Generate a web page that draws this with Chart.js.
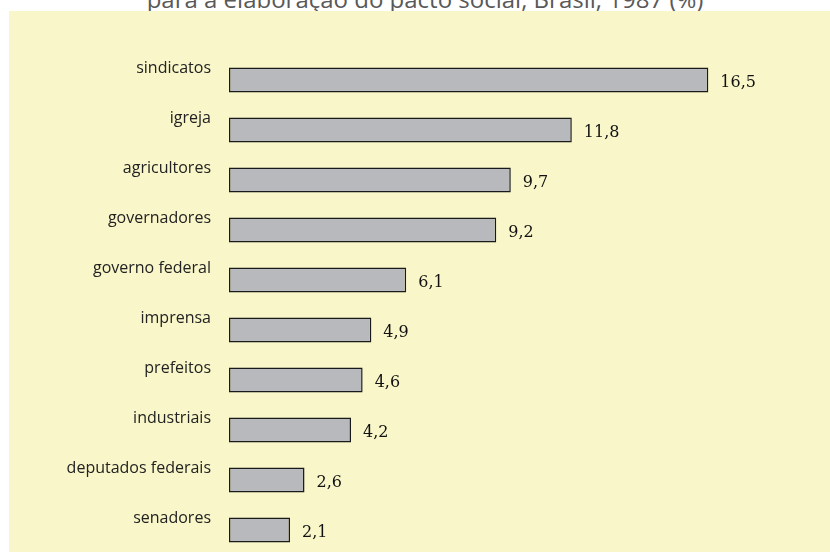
<!DOCTYPE html>
<html>
<head>
<meta charset="utf-8">
<script src="https://cdn.jsdelivr.net/npm/chart.js@4/dist/chart.umd.min.js"></script>
<style>
    body { margin: 0; background: #ffffff; width: 830px; height: 552px; overflow: hidden; position: relative; }
    #title {
        position: absolute; left: 0; width: 850px; top: -18px;
        text-align: center; font-family: 'Open Sans', sans-serif; font-size: 24px;
        color: #595959; white-space: nowrap;
    }
    #box {
        position: absolute; left: 9px; top: 11px; width: 821px; height: 541px;
        background: #f9f7c9; overflow: hidden;
    }
</style>
</head>
<body>
<div id="title">para a elaboração do pacto social, Brasil, 1987 (%)</div>
<div id="box"><canvas id="barChart" width="821" height="560"></canvas></div>
<script>
let categories = ['sindicatos', 'igreja', 'agricultores', 'governadores', 'governo federal',
    'imprensa', 'prefeitos', 'industriais', 'deputados federais', 'senadores'];
let values = [16.5, 11.8, 9.7, 9.2, 6.1, 4.9, 4.6, 4.2, 2.6, 2.1];

// numbers next to the bars, with a decimal comma
let valueLabels = {
    id: 'valueLabels',
    afterDatasetsDraw: function (chart) {
        let ctx = chart.ctx;
        let meta = chart.getDatasetMeta(0);
        ctx.save();
        ctx.font = '16px "DejaVu Serif", serif';
        ctx.fillStyle = '#111111';
        ctx.textAlign = 'left';
        ctx.textBaseline = 'middle';
        meta.data.forEach(function (bar, i) {
            ctx.fillText(values[i].toFixed(1).replace('.', ','), bar.x + 12, bar.y + 3);
        });
        ctx.restore();
    }
};

window.onload = function () {
    let painter = document.getElementById('barChart').getContext('2d');
    window.barChart = new Chart(painter, {
        type: 'bar',
        data: {
            labels: categories,
            datasets: [{
                data: values,
                backgroundColor: '#b8b9bc',
                borderColor: '#1a1a1a',
                borderWidth: 1.5,
                borderSkipped: false,
                barPercentage: 0.5,
                categoryPercentage: 1
            }]
        },
        options: {
            responsive: false,
            animation: false,
            indexAxis: 'y',
            layout: { padding: { top: 44, bottom: 16, right: 20, left: 0 } },
            scales: {
                x: { display: false, min: 0, max: 20 },
                y: {
                    grid: { display: false, drawTicks: false },
                    border: { display: false },
                    afterFit: function (scale) {
                        scale.width = 220;
                        scale.paddingTop = 0;
                        scale.paddingBottom = 0;
                    },
                    ticks: {
                        padding: 18,
                        labelOffset: -12,
                        color: '#222222',
                        font: { family: 'Open Sans', size: 16 }
                    }
                }
            },
            plugins: {
                legend: { display: false },
                tooltip: { enabled: false }
            }
        },
        plugins: [valueLabels]
    });
};
</script>
</body>
</html>
